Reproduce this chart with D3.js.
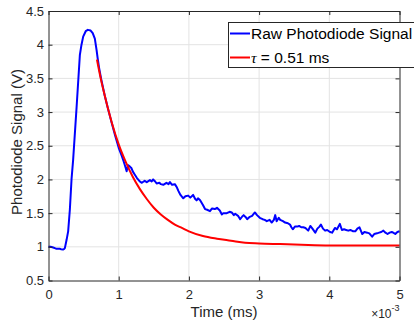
<!DOCTYPE html>
<html>
<head>
<meta charset="utf-8">
<script src="https://cdn.jsdelivr.net/npm/d3@7"></script>
<style>
body { margin: 0; background: #fff; }
svg { display: block; font-family: "Liberation Sans", Arial, sans-serif; }
</style>
</head>
<body>
<svg id="chart" width="414" height="322"></svg>
<script>

// raw photodiode trace (time in units of 1e-3, volts)
var rawTime = [0.00,0.03,0.066,0.09,0.114,0.14,0.16,0.18,0.208,0.22,0.233,0.257,0.28,0.304,0.328,0.351,0.40,0.447,0.47,0.494,
  0.53,0.56,0.60,0.63,0.66,0.685,0.70,0.72,0.75,0.80,0.85,0.90,0.95,1.00,1.04,1.07,1.10,1.113,1.125,1.136,
  1.16,1.18,1.20,1.23,1.26,1.30,1.33,1.37,1.40,1.445,1.47,1.49,1.52,1.54,1.58,1.60,1.635,1.68,1.71,1.73,
  1.76,1.80,1.83,1.85,1.88,1.92,1.95,1.99,2.02,2.06,2.09,2.11,2.13,2.16,2.20,2.23,2.26,2.30,2.33,2.37,
  2.40,2.44,2.47,2.49,2.54,2.58,2.61,2.64,2.66,2.70,2.73,2.76,2.78,2.81,2.83,2.86,2.90,2.94,2.97,3.01,
  3.05,3.08,3.11,3.15,3.18,3.21,3.23,3.25,3.28,3.30,3.34,3.37,3.41,3.44,3.46,3.48,3.51,3.54,3.57,3.60,
  3.63,3.66,3.70,3.73,3.76,3.80,3.83,3.86,3.88,3.91,3.94,3.97,4.01,4.04,4.08,4.11,4.15,4.18,4.21,4.24,
  4.27,4.30,4.34,4.37,4.40,4.43,4.47,4.50,4.54,4.57,4.61,4.64,4.68,4.71,4.74,4.77,4.80,4.83,4.86,4.89,
  4.91,4.94,4.97,5.00];
var rawVolt = [1.00,1.00,0.99,0.98,0.97,0.97,0.97,0.965,0.96,0.965,0.98,1.10,1.23,1.55,2.00,2.29,3.07,3.85,4.00,4.12,
  4.20,4.22,4.21,4.17,4.09,3.92,3.80,3.66,3.49,3.25,3.04,2.84,2.65,2.47,2.36,2.27,2.17,2.12,2.18,2.21,
  2.19,2.17,2.12,2.07,2.02,1.97,1.95,1.98,1.96,1.99,1.97,2.00,1.97,1.94,1.95,1.93,1.92,1.95,1.93,1.96,
  1.92,1.93,1.88,1.83,1.77,1.72,1.75,1.76,1.73,1.77,1.71,1.69,1.72,1.69,1.62,1.56,1.55,1.53,1.57,1.56,
  1.58,1.54,1.48,1.50,1.50,1.52,1.51,1.47,1.49,1.46,1.41,1.45,1.47,1.44,1.41,1.44,1.46,1.51,1.47,1.43,
  1.41,1.40,1.38,1.40,1.36,1.40,1.47,1.38,1.43,1.40,1.38,1.36,1.35,1.33,1.29,1.26,1.30,1.30,1.31,1.29,
  1.29,1.28,1.24,1.31,1.27,1.21,1.27,1.30,1.33,1.27,1.24,1.25,1.22,1.21,1.28,1.26,1.34,1.25,1.26,1.25,
  1.24,1.25,1.23,1.23,1.27,1.29,1.19,1.22,1.21,1.20,1.15,1.19,1.20,1.21,1.22,1.24,1.21,1.19,1.21,1.22,
  1.21,1.19,1.22,1.23];

// exponential fit
var fitTime = [0.69,0.75,0.80,0.85,0.90,1.00,1.10,1.20,1.30,1.40,1.50,1.60,1.70,1.80,1.90,2.00,2.20,2.40,2.60,2.80,3.00,3.30,3.60,4.00,4.50,5.00];
var fitVolt = [3.78,3.47,3.25,3.04,2.85,2.52,2.26,2.04,1.86,1.71,1.58,1.48,1.40,1.33,1.28,1.23,1.16,1.12,1.09,1.06,1.05,1.04,1.03,1.02,1.02,1.02];

var xTicks = [0,1,2,3,4,5];
var yTicks = [0.5,1,1.5,2,2.5,3,3.5,4,4.5];
var legendLabels = ["Raw Photodiode Signal", " = 0.51 ms"];
var seriesColors = ["#0000ff", "#ff0000"];

var width = 414, height = 322;
var margin = {top: 11, right: 14.5, bottom: 41.5, left: 48.5};
var axisColor = "#262626";

var svg = d3.select("#chart");

var x = d3.scaleLinear().domain([0, 5]).range([margin.left, width - margin.right]);
var y = d3.scaleLinear().domain([0.5, 4.5]).range([height - margin.bottom, margin.top]);

// grid
var grid = svg.append("g").attr("class", "grid");
grid.selectAll("line.gx")
    .data(xTicks.slice(1, -1))
    .enter().append("line")
    .attr("class", "gx")
    .attr("x1", function(d){ return x(d) }).attr("x2", function(d){ return x(d) })
    .attr("y1", y(0.5)).attr("y2", y(4.5))
    .style("stroke", "#e3e3e3").style("stroke-width", 1);
grid.selectAll("line.gy")
    .data(yTicks.slice(1, -1))
    .enter().append("line")
    .attr("class", "gy")
    .attr("y1", function(d){ return y(d) }).attr("y2", function(d){ return y(d) })
    .attr("x1", x(0)).attr("x2", x(5))
    .style("stroke", "#e3e3e3").style("stroke-width", 1);

// lines
var rawData = rawTime.map(function(t, i){ return [t, rawVolt[i]] });
var fitData = fitTime.map(function(t, i){ return [t, fitVolt[i]] });

var rawLine = d3.line()
    .x(function(d){ return x(d[0]) })
    .y(function(d){ return y(d[1]) });
var fitLine = d3.line()
    .curve(d3.curveMonotoneX)
    .x(function(d){ return x(d[0]) })
    .y(function(d){ return y(d[1]) });

svg.append("path")
    .datum(rawData)
    .attr("d", rawLine)
    .style("fill", "none")
    .style("stroke", seriesColors[0])
    .style("stroke-width", 2)
    .style("stroke-linejoin", "round");

svg.append("path")
    .datum(fitData)
    .attr("d", fitLine)
    .style("fill", "none")
    .style("stroke", seriesColors[1])
    .style("stroke-width", 2);

// axes, MATLAB style box with inward ticks
var xAxis = d3.axisBottom(x).tickValues(xTicks).tickSizeInner(-4).tickSizeOuter(0).tickPadding(9)
    .tickFormat(d3.format("d"));
var yAxis = d3.axisLeft(y).tickValues(yTicks).tickSizeInner(-4).tickSizeOuter(0).tickPadding(4.5)
    .tickFormat(function(d){ return d3.format("")(d) });
var xTop = d3.axisTop(x).tickValues(xTicks).tickSizeInner(-4).tickSizeOuter(0).tickFormat("");
var yRight = d3.axisRight(y).tickValues(yTicks).tickSizeInner(-4).tickSizeOuter(0).tickFormat("");

svg.append("g").attr("transform", `translate(0 ${y(0.5)})`).call(xAxis);
svg.append("g").attr("transform", `translate(${x(0)} 0)`).call(yAxis);
svg.append("g").attr("transform", `translate(0 ${y(4.5)})`).call(xTop);
svg.append("g").attr("transform", `translate(${x(5)} 0)`).call(yRight);

svg.selectAll(".domain, .tick line").style("stroke", axisColor).style("stroke-width", 1);
svg.selectAll(".tick text")
    .style("font-family", "'Liberation Sans', Arial, sans-serif")
    .style("font-size", "13px")
    .style("fill", axisColor);

// axis labels
svg.append("text")
    .attr("x", (x(0) + x(5)) / 2)
    .attr("y", 317)
    .attr("text-anchor", "middle")
    .style("font-size", "15px")
    .style("fill", axisColor)
    .text("Time (ms)");

svg.append("text")
    .attr("transform", `translate(22 142) rotate(-90)`)
    .attr("text-anchor", "middle")
    .style("font-size", "15px")
    .style("fill", axisColor)
    .text("Photodiode Signal (V)");

var expo = svg.append("text")
    .attr("x", x(5))
    .attr("y", 318)
    .attr("text-anchor", "end")
    .style("font-size", "12px")
    .style("fill", axisColor);
expo.append("tspan").text("\u00d710");
expo.append("tspan").attr("dy", -7).style("font-size", "9px").text("-3");

// legend
var legend = svg.append("g").attr("transform", "translate(228.5 22.5)");
legend.append("rect")
    .attr("width", 200).attr("height", 45)
    .style("fill", "#fff")
    .style("stroke", axisColor)
    .style("stroke-width", 1);

var rows = legend.selectAll("g.row")
    .data(legendLabels)
    .enter().append("g")
    .attr("class", "row")
    .attr("transform", function(d, i){ return `translate(0 ${11 + i * 24})` });

rows.append("line")
    .attr("x1", 1.5).attr("x2", 21.5)
    .style("stroke", function(d, i){ return seriesColors[i] })
    .style("stroke-width", 2);

var labels = rows.append("text")
    .attr("x", 22.5)
    .attr("dy", "0.36em")
    .style("font-size", "15.5px")
    .style("fill", "#000");
labels.filter(function(d, i){ return i == 1 })
    .append("tspan")
    .style("font-style", "italic")
    .style("font-family", "'Liberation Serif', serif")
    .text("\u03c4");
labels.append("tspan").text(function(d){ return d });

</script>
</body>
</html>
